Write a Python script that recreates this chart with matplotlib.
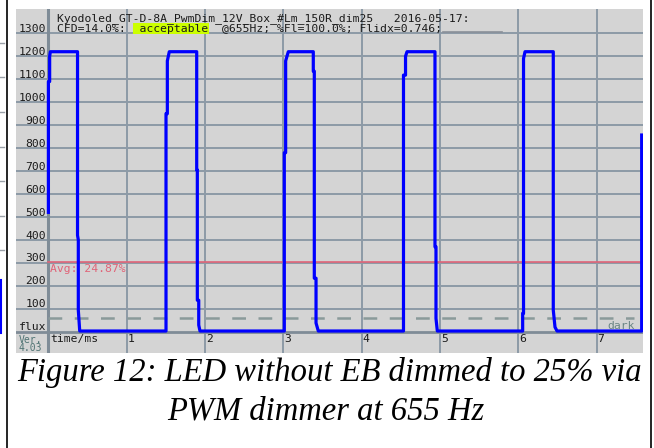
import matplotlib
matplotlib.use("Agg")
import matplotlib.pyplot as plt
from matplotlib.patches import Rectangle
from matplotlib.lines import Line2D

# ---------------- data ----------------
time_ms = [0.000, 0.000, 0.016, 0.016, 0.025, 0.372, 0.372, 0.382, 0.382, 0.400,
           1.502, 1.502, 1.519, 1.519, 1.544, 1.894, 1.894, 1.902, 1.902, 1.920, 1.920, 1.936,
           3.013, 3.013, 3.030, 3.030, 3.064, 3.383, 3.383, 3.396, 3.396, 3.418, 3.418, 3.447,
           4.535, 4.535, 4.561, 4.561, 4.580, 4.937, 4.937, 4.950, 4.950, 4.967,
           6.057, 6.057, 6.068, 6.068, 6.087, 6.448, 6.448, 6.470, 6.496,
           7.577, 7.577]
flux = [520, 1090, 1090, 1200, 1220, 1220, 420, 400, 94, 3,
        3, 950, 950, 1180, 1220, 1220, 705, 705, 137, 137, 29, 3,
        3, 780, 780, 1180, 1220, 1220, 1135, 1135, 233, 233, 38, 3,
        3, 1118, 1118, 1200, 1220, 1220, 370, 370, 58, 3,
        3, 80, 80, 1190, 1220, 1220, 94, 20, 3,
        3, 857]
avg_level = 305
dark_level = 61
y_ticks = [100, 200, 300, 400, 500, 600, 700, 800, 900, 1000, 1100, 1200, 1300]
x_ticks = [1, 2, 3, 4, 5, 6, 7]
header1 = "Kyodoled_GT-D-8A_PwmDim_12V_Box_#Lm_150R_dim25   2016-05-17:"
header2 = "CFD=14.0%:  acceptable  @655Hz; %Fl=100.0%; Flidx=0.746;"
avg_label = "Avg: 24.87%"
caption1 = "Figure 12: LED without EB dimmed to 25% via"
caption2 = "PWM dimmer at 655 Hz"

# ---------------- layout ----------------
W, H = 654, 448
fig = plt.figure(figsize=(W / 100, H / 100), dpi=100)
fig.patch.set_facecolor("white")

L, R, T, B = 15.7, 642.7, 9.0, 353.0   # gray panel in pixels
X0, PXMS = 48.4, 78.3                  # x pixel of t=0, px per ms
Y0, PXU = 331.7, 0.2295                # y pixel of flux=0, px per unit

def px2x(px):
    return (px - X0) / PXMS

def px2y(py):
    return (Y0 - py) / PXU

ax = fig.add_axes([L / W, (H - B) / H, (R - L) / W, (B - T) / H])
ax.set_xlim(px2x(L), px2x(R))
ax.set_ylim(px2y(B), px2y(T))
ax.set_facecolor("#d4d4d4")
for s in ax.spines.values():
    s.set_visible(False)
ax.set_xticks([])
ax.set_yticks([])

grid_c = "#8d9aa6"
for v in y_ticks:
    ax.axhline(v, color=grid_c, lw=1.4, zorder=1)
for t in x_ticks:
    ax.axvline(t, color=grid_c, lw=1.4, zorder=1)
ax.axhline(0, color="#7f8c97", lw=2.0, zorder=1)
ax.axvline(px2x(47.8), color="#7f8c97", lw=2.2, zorder=1)

mono = "DejaVu Sans Mono"
fs = 8.2
for v in y_ticks:
    ax.text(px2x(46.0), v + 6, str(v), ha="right", va="baseline",
            family=mono, fontsize=fs, color="#1a1a1a", zorder=3)
ax.text(px2x(46.0), 9, "flux", ha="right", va="baseline",
        family=mono, fontsize=fs, color="#1a1a1a", zorder=3)
for t in x_ticks:
    ax.text(t + 0.015, px2y(334.0), str(t), ha="left", va="top",
            family=mono, fontsize=fs, color="#1a1a1a", zorder=3)
ax.text(px2x(50.0), px2y(334.0), "time/ms", ha="left", va="top",
        family=mono, fontsize=fs, color="#1a1a1a", zorder=3)
ax.text(px2x(18.5), px2y(334.5), "Ver.\n4.03", ha="left", va="top",
        family=mono, fontsize=7.0, color="#4f7373", zorder=3, linespacing=0.85)

# dark level dashed line
ax.plot([0, px2x(634)], [dark_level, dark_level], color="#8a9a9a", lw=1.8,
        dashes=(5.5, 5), zorder=2)
ax.text(px2x(635), 12, "dark", ha="right", va="baseline",
        family=mono, fontsize=fs, color="#6a8585", zorder=3)

# average line
ax.axhline(avg_level, xmin=(X0 - L) / (R - L), color="#e06478", lw=1.2, zorder=2)
ax.text(px2x(50.0), avg_level - 8, avg_label, ha="left", va="top",
        family=mono, fontsize=fs, color="#e06478", zorder=3)

# signal trace
ax.plot(time_ms, flux, color="#0000ff", lw=2.3, zorder=4,
        solid_joinstyle="round", clip_on=True)

# header
cw = 6.875
hx = 57.3
ax.add_patch(Rectangle((px2x(hx + 11 * cw), px2y(34.3)),
                       px2x(209.0) - px2x(hx + 11 * cw), px2y(23.3) - px2y(34.3),
                       facecolor="#ccff00", edgecolor="none", zorder=2.5))
ax.text(px2x(hx), px2y(21.5), header1, ha="left", va="baseline",
        family=mono, fontsize=fs, color="#1a1a1a", zorder=3)
ax.text(px2x(hx), px2y(31.7), header2, ha="left", va="baseline",
        family=mono, fontsize=fs, color="#1a1a1a", zorder=3)
ax.plot([px2x(443), px2x(502)], [px2y(32.5), px2y(32.5)], color="#8a9099",
        lw=1.2, zorder=3)

# caption
fig.text(329.5 / W, 1 - 372 / H, caption1, ha="center", va="center",
         family="Liberation Serif", style="italic", fontsize=23.5, color="black")
fig.text(326 / W, 1 - 411 / H, caption2, ha="center", va="center",
         family="Liberation Serif", style="italic", fontsize=23.5, color="black")

# document frame lines
fig.add_artist(Line2D([7.3 / W, 7.3 / W], [0, 1], color="black", lw=1.2))
fig.add_artist(Line2D([651 / W, 651 / W], [0, 1], color="black", lw=1.2))
# remnants of neighbouring figure at the left edge
for py in [43, 77, 112, 147, 181, 216, 250]:
    fig.add_artist(Line2D([0, 4 / W], [1 - py / H, 1 - py / H], color="#9aa0a8", lw=1.0))
fig.add_artist(Line2D([0.8 / W, 0.8 / W], [1 - 280 / H, 1 - 333 / H], color="#0000ff", lw=1.5))

fig.savefig("out.png", dpi=100, facecolor="white")
